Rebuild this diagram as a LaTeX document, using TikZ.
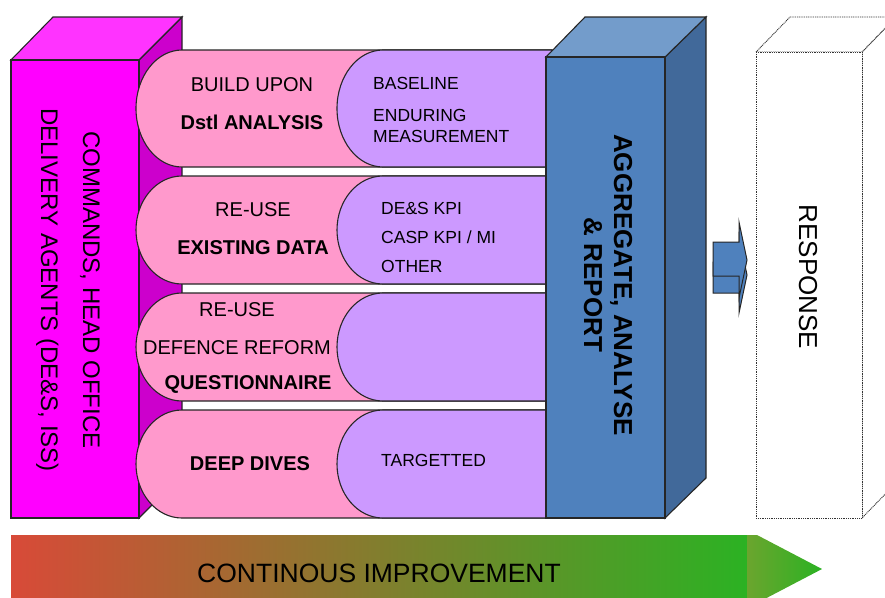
\documentclass[tikz,border=0pt]{standalone}
\usepackage{fontspec}
\setmainfont{Liberation Sans}
\definecolor{magfront}{HTML}{FF00FF}
\definecolor{magtop}{HTML}{FF33FF}
\definecolor{magside}{HTML}{CC00CC}
\definecolor{pillpink}{HTML}{FF99CC}
\definecolor{pillpurple}{HTML}{CC99FF}
\definecolor{bluefront}{HTML}{4F81BD}
\definecolor{bluetop}{HTML}{739CCB}
\definecolor{blueside}{HTML}{41699A}
\definecolor{cired}{HTML}{D84A38}
\definecolor{ciolive}{HTML}{A88A30}
\definecolor{cigreen}{HTML}{2BB223}
\definecolor{headolive}{HTML}{6BA52E}
\begin{document}
\begin{tikzpicture}[x=1pt,y=-1pt,line join=miter]
\tikzset{
  edge/.style={draw=black!85,line width=1.1pt},
  pinkpill/.style={edge,fill=pillpink},
  purplepill/.style={edge,fill=pillpurple},
  txt/.style={inner sep=0pt,font=\fontsize{20}{22}\selectfont},
  btxt/.style={inner sep=0pt,font=\fontsize{20}{22}\selectfont\bfseries},
  ptxt/.style={inner sep=0pt,anchor=west,font=\fontsize{17.5}{20}\selectfont},
  ghost/.style={draw=black!80,dash pattern=on 1pt off 0.8pt,line width=0.9pt,fill=white},
  blockarrow/.style={edge,fill=bluefront,line width=1pt},
}
\useasboundingbox (0,0) rectangle (885,597);
\begin{scope}
\clip (0,0) rectangle (885,597);

% left block: commands and delivery agents
\path[edge,fill=magside] (139,60) -- (182,17) -- (182,475) -- (139,518) -- cycle;
\path[edge,fill=magtop] (11,60) -- (53,17) -- (182,17) -- (139,60) -- cycle;
\path[edge,fill=magfront] (11,60) rectangle (139,518);
\node[rotate=-90,align=center,inner sep=0pt,font=\fontsize{24}{42}\selectfont]
  (agents) at (68,290) {COMMANDS, HEAD OFFICE\\DELIVERY AGENTS (DE\&S, ISS)};

% four input bands
\foreach \t/\b in {50/167,176/284,293/401,410/518}{
  \pgfmathsetmacro\r{(\b-\t)/2}
  \path[pinkpill] (182,\t) -- (552,\t) -- (552,\b) -- (182,\b)
    arc[start angle=90,end angle=270,x radius=46,y radius=\r] -- cycle;
  \path[purplepill] (383,\t) -- (552,\t) -- (552,\b) -- (383,\b)
    arc[start angle=90,end angle=270,x radius=46,y radius=\r] -- cycle;
}

% band texts
\node[txt]  (b1a) at (252,85)  {BUILD UPON};
\node[btxt] (b1b) at (252,122) {Dstl ANALYSIS};
\node[ptxt] (p1a) at (373,83)  {BASELINE};
\node[ptxt] (p1b) at (373,115) {ENDURING};
\node[ptxt] (p1c) at (373,136) {MEASUREMENT};

\node[txt]  (b2a) at (253,210) {RE-USE};
\node[btxt] (b2b) at (253,248) {EXISTING DATA};
\node[ptxt] (p2a) at (381,208) {DE\&S KPI};
\node[ptxt] (p2b) at (381,237) {CASP KPI / MI};
\node[ptxt] (p2c) at (381,266) {OTHER};

\node[txt]  (b3a) at (237,310) {RE-USE};
\node[txt]  (b3b) at (237,348) {DEFENCE REFORM};
\node[btxt] (b3c) at (248,384) {QUESTIONNAIRE};

\node[btxt] (b4a) at (250,464) {DEEP DIVES};
\node[ptxt] (p4a) at (381,460) {TARGETTED};

% aggregate block
\path[edge,fill=blueside] (665,57) -- (706,17) -- (706,478) -- (665,518) -- cycle;
\path[edge,fill=bluetop] (546,57) -- (585,17) -- (706,17) -- (665,57) -- cycle;
\path[edge,fill=bluefront] (546,57) rectangle (665,518);
\node[rotate=-90,align=center,inner sep=0pt,font=\fontsize{26}{30}\selectfont\bfseries]
  (agg) at (608,285) {AGGREGATE, ANALYSE\\\& REPORT};

% block arrow towards the response
\path[blockarrow] (713,262) -- (739,262) -- (739,236) -- (747,275) -- (739,313)
  -- (739,293) -- (713,293) -- cycle;
\path[blockarrow] (713,242) -- (739,242) -- (739,222) -- (747,260) -- (739,298)
  -- (739,276) -- (713,276) -- cycle;

% response block (outline only)
\path[ghost] (862,52) -- (896,17) -- (896,483) -- (862,518) -- cycle;
\path[ghost] (756,52) -- (790,17) -- (896,17) -- (862,52) -- cycle;
\path[ghost] (756,52) rectangle (862,518);
\node[rotate=-90,inner sep=0pt,font=\fontsize{26}{30}\selectfont]
  (resp) at (808,277) {RESPONSE};

% continuous improvement arrow
\shade[left color=cired,middle color=ciolive,right color=cigreen]
  (11,535) rectangle (748,603);
\shade[left color=headolive,right color=cigreen]
  (747,535) -- (757,535) -- (822,569) -- (757,603) -- (747,603) -- cycle;
\node[inner sep=0pt,font=\fontsize{26.5}{30}\selectfont] (ci) at (379,573)
  {CONTINOUS IMPROVEMENT};
\end{scope}
\end{tikzpicture}
\end{document}
